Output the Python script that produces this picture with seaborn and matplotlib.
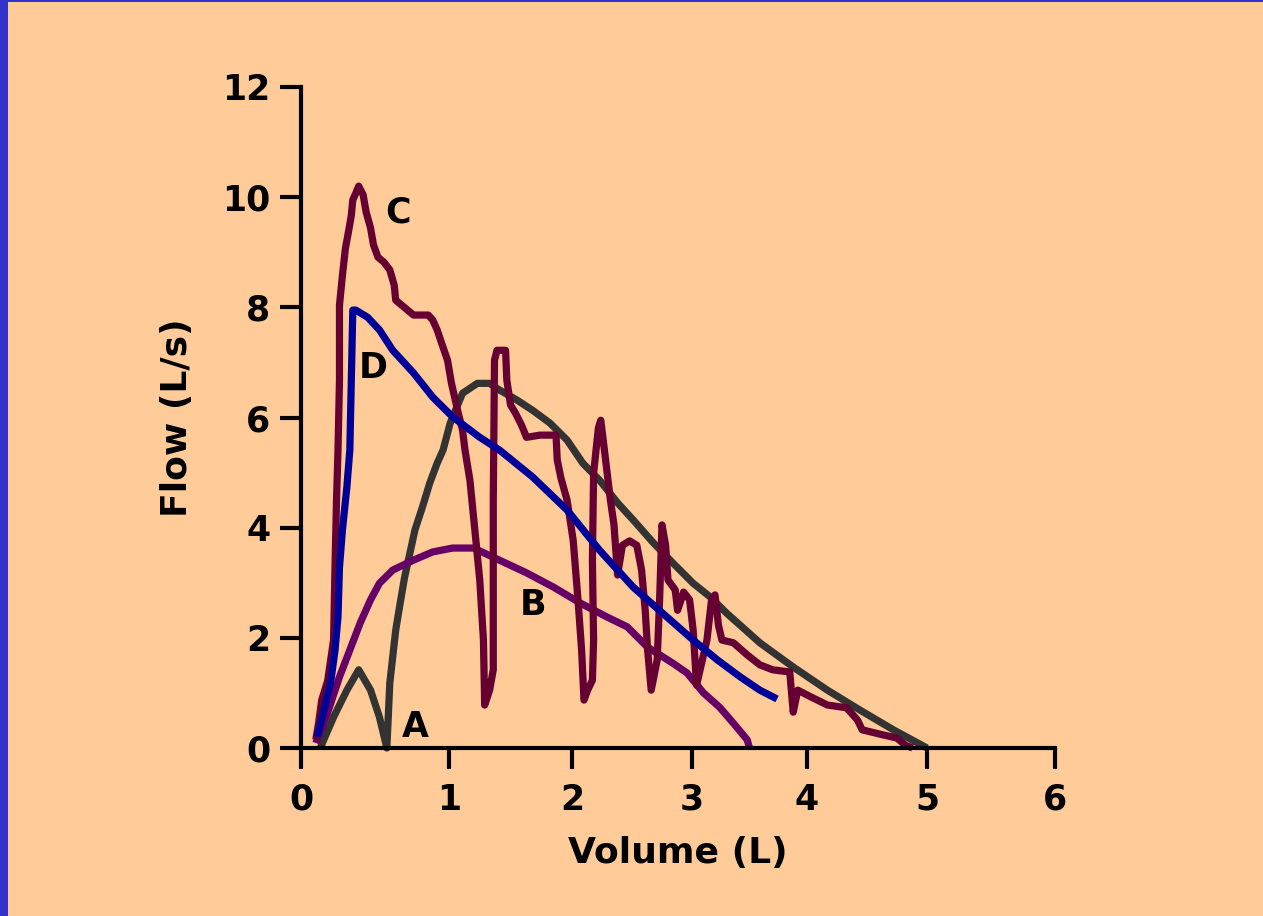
import numpy as np
import pandas as pd
import matplotlib
matplotlib.use('Agg')
import matplotlib.pyplot as plt
from matplotlib.patches import Rectangle
import seaborn as sns

# flow-volume loops, values
a_vol = [0.13, 0.22, 0.31, 0.39, 0.47, 0.53, 0.58, 0.60, 0.64, 0.67, 0.70, 0.74, 0.77, 0.82,
         0.87, 0.92, 0.96, 1.01, 1.11, 1.23, 1.33, 1.41, 1.55, 1.68, 1.82, 1.96, 2.09, 2.23,
         2.38, 2.51, 2.68, 2.84, 3.01, 3.16, 3.30, 3.59, 3.88, 4.17, 4.44, 4.72, 5.00]
a_flow = [0.0, 0.56, 1.05, 1.42, 1.05, 0.56, 0.0, 1.18, 2.14, 2.63, 3.10, 3.59, 3.96, 4.37,
          4.81, 5.17, 5.41, 5.90, 6.44, 6.62, 6.62, 6.50, 6.32, 6.13, 5.90, 5.59, 5.17, 4.86,
          4.45, 4.14, 3.72, 3.36, 2.99, 2.74, 2.45, 1.91, 1.47, 1.05, 0.69, 0.33, 0.0]

b_vol = [0.10, 0.18, 0.26, 0.33, 0.40, 0.47, 0.53, 0.62, 0.76, 0.89, 1.03, 1.20, 1.41, 1.63,
         1.85, 2.07, 2.29, 2.46, 2.63, 2.84, 2.96, 3.10, 3.24, 3.36, 3.48, 3.50]
b_flow = [0.09, 0.64, 1.29, 1.78, 2.27, 2.69, 2.99, 3.23, 3.41, 3.56, 3.63, 3.63, 3.41, 3.18,
          2.92, 2.63, 2.38, 2.20, 1.83, 1.54, 1.36, 1.00, 0.74, 0.45, 0.15, 0.0]

c_vol = [0.10, 0.12, 0.14, 0.18, 0.22, 0.23, 0.24, 0.25, 0.26, 0.26,
         0.28, 0.30, 0.32, 0.34, 0.35, 0.37, 0.39, 0.42, 0.44, 0.47,
         0.49, 0.52, 0.56, 0.60, 0.63, 0.64, 0.68, 0.72, 0.76, 0.86,
         0.89, 0.92, 0.95, 0.99, 1.02, 1.07, 1.11, 1.13, 1.17, 1.21,
         1.25, 1.28, 1.29, 1.33, 1.36, 1.36, 1.37, 1.39, 1.46, 1.47,
         1.50, 1.54, 1.59, 1.63, 1.74, 1.87, 1.88, 1.91, 1.96, 2.01,
         2.05, 2.08, 2.10, 2.13, 2.17, 2.18, 2.17, 2.18, 2.22, 2.24,
         2.28, 2.32, 2.35, 2.38, 2.42, 2.48, 2.54, 2.58, 2.61, 2.63,
         2.66, 2.71, 2.73, 2.75, 2.78, 2.80, 2.86, 2.88, 2.93, 2.98,
         3.01, 3.04, 3.10, 3.13, 3.17, 3.20, 3.23, 3.26, 3.36, 3.48,
         3.59, 3.70, 3.85, 3.88, 3.92, 4.03, 4.17, 4.33, 4.42, 4.46,
         4.63, 4.75, 4.82, 4.88]
c_flow = [0.15, 0.47, 0.87, 1.22, 1.96, 3.32, 4.50, 5.41, 6.68, 8.04,
          8.58, 9.07, 9.36, 9.67, 9.95, 10.07, 10.20, 10.04, 9.73, 9.44,
          9.13, 8.91, 8.82, 8.68, 8.40, 8.13, 8.04, 7.95, 7.86, 7.86,
          7.77, 7.59, 7.35, 7.04, 6.62, 6.13, 5.77, 5.41, 4.86, 3.96,
          3.05, 1.96, 0.78, 1.05, 1.42, 4.50, 7.04, 7.22, 7.22, 6.68,
          6.23, 6.08, 5.86, 5.64, 5.68, 5.68, 5.23, 4.90, 4.50, 3.77,
          2.69, 1.78, 0.87, 1.05, 1.23, 1.96, 3.41, 4.99, 5.81, 5.95,
          5.23, 4.50, 4.05, 3.14, 3.68, 3.76, 3.68, 3.23, 2.50, 1.78,
          1.05, 1.60, 2.69, 4.05, 3.68, 3.05, 2.87, 2.50, 2.83, 2.69,
          2.14, 1.14, 1.69, 1.96, 2.69, 2.78, 2.23, 1.96, 1.91, 1.69,
          1.51, 1.42, 1.38, 0.65, 1.05, 0.93, 0.78, 0.73, 0.51, 0.33,
          0.24, 0.18, 0.05, 0.0]

d_vol = [0.11, 0.20, 0.23, 0.25, 0.26, 0.28, 0.31, 0.33, 0.35, 0.37, 0.45, 0.53, 0.62, 0.76,
         0.89, 1.03, 1.25, 1.41, 1.68, 1.96, 2.23, 2.51, 2.79, 3.01, 3.22, 3.42, 3.59, 3.74]
d_flow = [0.20, 1.18, 1.78, 2.38, 3.28, 3.96, 4.74, 5.41, 7.95, 7.95, 7.82, 7.59, 7.22, 6.81,
          6.37, 6.01, 5.64, 5.41, 4.92, 4.32, 3.59, 2.92, 2.38, 1.96, 1.60, 1.29, 1.05, 0.89]

x_ticks = [0, 1, 2, 3, 4, 5, 6]
y_ticks = [0, 2, 4, 6, 8, 10, 12]

# the original volume axis has uneven tick spacing; mimic it with a piecewise scale
vol_knots = [-1, 0, 1, 2, 3, 4, 5, 6, 7]
scale_knots = [-148, 0, 148, 271, 391, 506, 626, 754, 882]


def fwd(v):
    return np.interp(v, vol_knots, scale_knots)


def inv(p):
    return np.interp(p, scale_knots, vol_knots)


sns.set_theme(style='ticks')
plt.rcParams['font.family'] = ['DejaVu Sans']
plt.rcParams['font.weight'] = 'bold'
plt.rcParams['text.color'] = 'black'
plt.rcParams['axes.labelcolor'] = 'black'

bg = '#ffcc99'
fig = plt.figure(figsize=(12.63, 9.16), dpi=100, facecolor=bg)
ax = fig.add_axes([301 / 1263, 168 / 916, 754 / 1263, 661 / 916])
ax.set_facecolor(bg)

curves = [
    (a_vol, a_flow, '#333333'),
    (b_vol, b_flow, '#660066'),
    (c_vol, c_flow, '#660033'),
    (d_vol, d_flow, '#000099'),
]
for vol, flow, col in curves:
    df = pd.DataFrame({'Volume': vol, 'Flow': flow})
    sns.lineplot(data=df, x='Volume', y='Flow', sort=False, estimator=None,
                 color=col, lw=5.2, ax=ax, legend=False, clip_on=False,
                 solid_joinstyle='round', solid_capstyle='butt')

ax.set_xscale('function', functions=(fwd, inv))
ax.set_xlim(0, 6)
ax.set_ylim(0, 12)
ax.set_xticks(x_ticks)
ax.set_yticks(y_ticks)
ax.xaxis.set_minor_locator(matplotlib.ticker.NullLocator())
ax.set_xticklabels([str(t) for t in x_ticks])
ax.set_yticklabels([str(t) for t in y_ticks])

sns.despine(ax=ax)
for side in ['left', 'bottom']:
    ax.spines[side].set_linewidth(3)
    ax.spines[side].set_color('black')
ax.tick_params(axis='both', direction='out', length=15, width=3, color='black',
               labelsize=25, labelcolor='black')
ax.tick_params(axis='x', pad=10)
ax.tick_params(axis='y', pad=7)
for lab in ax.get_xticklabels() + ax.get_yticklabels():
    lab.set_fontweight('bold')

ax.set_xlabel('Volume (L)', fontsize=26, fontweight='bold', labelpad=14, color='black')
ax.set_ylabel('Flow (L/s)', fontsize=26, fontweight='bold', labelpad=20, color='black')

# curve letters
letters = [('A', 0.77, 0.38), ('B', 1.68, 2.6), ('C', 0.655, 9.73), ('D', 0.49, 6.9)]
for name, lx, ly in letters:
    ax.text(lx, ly, name, fontsize=25, fontweight='bold', ha='center', va='center',
            color='black')

# blue frame on the left and top edge
fig.add_artist(Rectangle((0, 0), 8 / 1263, 1, transform=fig.transFigure,
                         color='#3333cc', lw=0))
fig.add_artist(Rectangle((0, 1 - 2 / 916), 1, 2 / 916, transform=fig.transFigure,
                         color='#3333cc', lw=0))

fig.savefig('out.png', dpi=100, facecolor=bg)
